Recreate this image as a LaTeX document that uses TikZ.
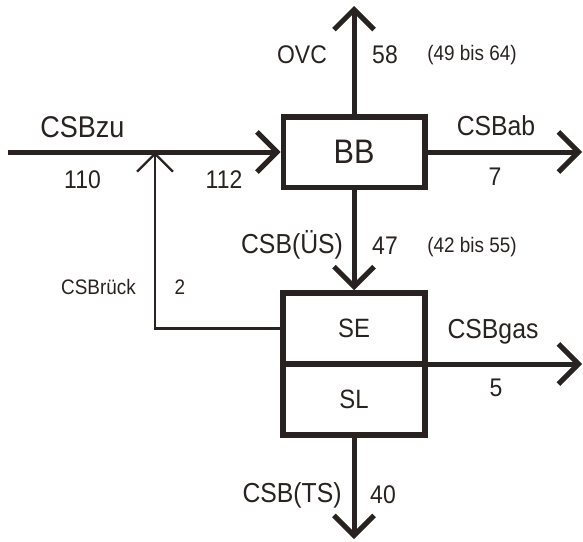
\documentclass[tikz,border=0pt]{standalone}
\usepackage{fontspec}
\setmainfont[FakeStretch=0.9]{Liberation Sans}
\usetikzlibrary{arrows.meta}
\definecolor{ink}{RGB}{40,34,32}
\tikzset{
  x=1pt, y=-1pt,
  box/.style={draw=ink, line width=5.5pt, rectangle, inner sep=0pt, text=ink},
  flow/.style={draw=ink, line width=5pt, -{Straight Barb[length=20pt,width=40pt]}},
  thinflow/.style={draw=ink, line width=2.3pt, -{Straight Barb[length=18pt,width=36pt]}},
  lbl/.style={text=ink, font=\fontsize{25.5}{28}\selectfont, inner sep=0pt},
  csblbl/.style={text=ink, font=\fontsize{27.5}{30}\selectfont, inner sep=0pt},
  small/.style={text=ink, font=\fontsize{21}{23}\selectfont, inner sep=0pt},
}
\begin{document}
\begin{tikzpicture}
\useasboundingbox (0,0) rectangle (583,541);
% boxes
\node[box, minimum width=141.5pt, minimum height=70.5pt, font=\fontsize{34}{36}\selectfont] (BB) at (354,152) {BB};
\node[box, minimum width=142pt, minimum height=71pt, font=\fontsize{26.5}{29}\selectfont] (SE) at (354,328.5) {SE};
\node[box, minimum width=142pt, minimum height=71pt, font=\fontsize{26.5}{29}\selectfont] (SL) at (354,399.5) {SL};
% free ends
\coordinate (inL) at (8,152);
\coordinate (merge) at (155,152);
\coordinate (ovcT) at (354,6);
\coordinate (abR) at (582,152);
\coordinate (gasR) at (582,364);
\coordinate (tsB) at (354,539);
\coordinate (rbend) at (155,328.5);
% connectors
\draw[flow] (inL) -- (BB.west);
\draw[flow] (BB.north) -- (ovcT);
\draw[flow] (BB.east) -- (abR);
\draw[flow] (BB.south) -- (SE.north);
\draw[flow] (gasR -| SE.east) -- (gasR);
\draw[flow] (SL.south) -- (tsB);
\draw[thinflow] (SE.west) -- (rbend) -- (merge);
% labels
\node[csblbl, font=\fontsize{30}{32}\selectfont] (lzu) at (82.5,127) {CSBzu};
\node[lbl] (l110) at (82.5,180) {110};
\node[lbl] (l112) at (224,180) {112};
\node[lbl] (lovc) at (302,55) {OVC};
\node[lbl] (l58) at (385,55) {58};
\node[small] (r58) at (472,55) {(49 bis 64)};
\node[csblbl] (lab) at (496,126) {CSBab};
\node[lbl] (l7) at (495,177) {7};
\node[csblbl] (lus) at (292,245) {CSB(ÜS)};
\node[lbl] (l47) at (385,246) {47};
\node[small] (r47) at (472,247) {(42 bis 55)};
\node[small] (lrueck) at (98.5,287) {CSBrück};
\node[small] (l2) at (180,287) {2};
\node[csblbl] (lgas) at (493,332) {CSBgas};
\node[lbl] (l5) at (496,388) {5};
\node[csblbl] (lts) at (292,495) {CSB(TS)};
\node[lbl] (l40) at (383,495) {40};
\end{tikzpicture}
\end{document}
